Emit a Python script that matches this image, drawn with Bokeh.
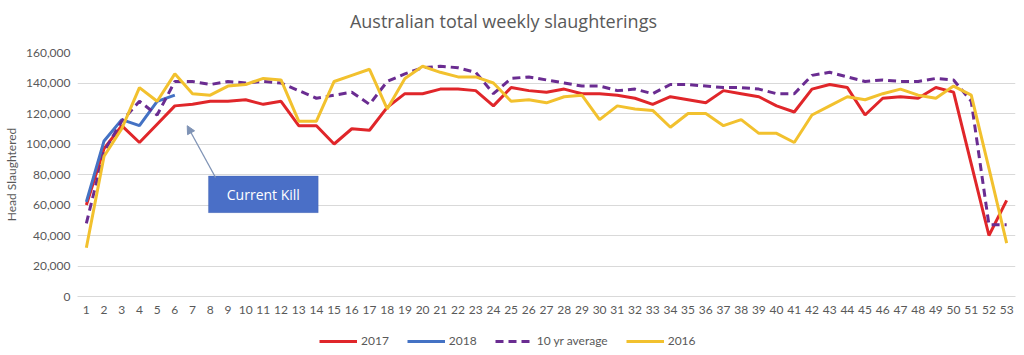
from bokeh.plotting import figure
from bokeh.layouts import column
from bokeh.models import (Range1d, FixedTicker, NumeralTickFormatter, Legend, LegendItem,
                          BoxAnnotation, Label, Arrow, NormalHead)
from bokeh.embed import file_html
from bokeh.resources import INLINE

weeks = list(range(1, 54))
y2017 = [60000, 97000, 112000, 101000, 113000, 125000, 126000, 128000, 128000, 129000,
         126000, 128000, 112000, 112000, 100000, 110000, 109000, 124000, 133000, 133000,
         136000, 136000, 135000, 125000, 137000, 135000, 134000, 136000, 133000, 133000,
         132000, 130000, 126000, 131000, 129000, 127000, 135000, 133000, 131000, 125000,
         121000, 136000, 139000, 137000, 119000, 130000, 131000, 130000, 137000, 134000,
         87000, 40000, 63000]
weeks2018 = [1, 2, 3, 4, 5, 6]
y2018 = [62000, 102000, 116000, 112000, 128000, 132000]
avg10 = [48000, 95000, 115000, 128000, 119000, 141000, 141000, 139000, 141000, 140000,
         141000, 140000, 135000, 130000, 132000, 134000, 126000, 141000, 146000, 150000,
         151000, 150000, 147000, 133000, 143000, 144000, 142000, 140000, 138000, 138000,
         135000, 136000, 133000, 139000, 139000, 138000, 137000, 137000, 136000, 133000,
         133000, 145000, 147000, 144000, 141000, 142000, 141000, 141000, 143000, 142000,
         128000, 47000, 47000]
y2016 = [32000, 92000, 110000, 137000, 128000, 146000, 133000, 132000, 138000, 139000,
         143000, 142000, 115000, 115000, 141000, 145000, 149000, 123000, 143000, 151000,
         147000, 144000, 144000, 140000, 128000, 129000, 127000, 131000, 132000, 116000,
         125000, 123000, 122000, 111000, 120000, 120000, 112000, 116000, 107000, 107000,
         101000, 119000, 125000, 131000, 129000, 133000, 136000, 132000, 130000, 138000,
         132000, 84000, 35000]
y_ticks = [0, 20000, 40000, 60000, 80000, 100000, 120000, 140000, 160000]
series_labels = ["2017", "2018", "10 yr average", "2016"]
title_text = "Australian total weekly slaughterings"

GREY = "#595959"
FONT = "Lato"
C17, C18, CAVG, C16 = "#E0262A", "#4472C4", "#6A2C91", "#F2C12E"

# title strip
top = figure(width=1024, height=40, output_backend="svg", toolbar_location=None,
             x_range=Range1d(0, 1024), y_range=Range1d(0, 40),
             min_border=0, min_border_left=0, min_border_right=0,
             min_border_top=0, min_border_bottom=0)
top.axis.visible = False
top.grid.visible = False
top.outline_line_color = None
top.add_layout(Label(x=465, y=20, text=title_text, text_color=GREY,
                     text_font="Open Sans", text_font_size="18px",
                     text_align="center", text_baseline="middle"))

p = figure(width=1024, height=282, output_backend="svg", toolbar_location=None,
           x_range=Range1d(0.5, 53.5), y_range=Range1d(0, 160000),
           min_border_left=77, min_border_right=9, min_border_top=12, min_border_bottom=26)
p.outline_line_color = None

p.xaxis.ticker = FixedTicker(ticks=weeks)
p.xaxis.major_tick_line_color = None
p.xaxis.minor_tick_line_color = None
p.xaxis.major_tick_out = 0
p.xaxis.major_tick_in = 0
p.xaxis.axis_line_color = "#d9d9d9"
p.xaxis.major_label_text_font = FONT
p.xaxis.major_label_text_font_size = "12px"
p.xaxis.major_label_text_color = GREY
p.xaxis.major_label_standoff = 9

p.yaxis.ticker = FixedTicker(ticks=y_ticks)
p.yaxis.formatter = NumeralTickFormatter(format="0,0")
p.yaxis.major_tick_line_color = None
p.yaxis.minor_tick_line_color = None
p.yaxis.major_tick_out = 0
p.yaxis.major_tick_in = 0
p.yaxis.axis_line_color = None
p.yaxis.major_label_text_font = FONT
p.yaxis.major_label_text_font_size = "12px"
p.yaxis.major_label_text_color = GREY
p.yaxis.major_label_standoff = 7
p.yaxis.axis_label = "Head Slaughtered"
p.yaxis.axis_label_text_font = FONT
p.yaxis.axis_label_text_font_size = "12px"
p.yaxis.axis_label_text_font_style = "normal"
p.yaxis.axis_label_text_color = GREY
p.yaxis.axis_label_standoff = 4

p.xgrid.grid_line_color = None
p.ygrid.grid_line_color = "#d9d9d9"
p.ygrid.grid_line_width = 1

p.line(weeks, y2017, line_color=C17, line_width=3)
p.line(weeks2018, y2018, line_color=C18, line_width=3)
p.line(weeks, avg10, line_color=CAVG, line_width=3, line_dash="8 5")
p.line(weeks, y2016, line_color=C16, line_width=3)

box = BoxAnnotation(left=7.9, right=14.1, bottom=55000, top=79000,
                    fill_color="#4A6FC7", fill_alpha=1.0, line_color="#3B5BA8", line_width=1)
p.add_layout(box)
p.add_layout(Label(x=11.0, y=67000, text="Current Kill", text_color="white",
                   text_font="Open Sans", text_font_size="14px",
                   text_align="center", text_baseline="middle"))
p.add_layout(Arrow(end=NormalHead(size=8, fill_color="#7F93B5", line_color="#7F93B5"),
                   x_start=8.3, y_start=78000, x_end=6.7, y_end=112000,
                   line_color="#7F93B5", line_width=1.3))

# legend strip: same series drawn outside its (empty) view, only the legend shows
leg = figure(width=1024, height=33, output_backend="svg", toolbar_location=None,
             x_range=Range1d(-10, -9), y_range=Range1d(-10, -9),
             min_border=0, min_border_left=0, min_border_right=0,
             min_border_top=0, min_border_bottom=0)
leg.axis.visible = False
leg.grid.visible = False
leg.outline_line_color = None
l17 = leg.line(weeks, y2017, line_color=C17, line_width=3)
l18 = leg.line(weeks2018, y2018, line_color=C18, line_width=3)
lavg = leg.line(weeks, avg10, line_color=CAVG, line_width=3, line_dash="8 5")
l16 = leg.line(weeks, y2016, line_color=C16, line_width=3)

legend = Legend(items=[LegendItem(label=series_labels[0], renderers=[l17]),
                       LegendItem(label=series_labels[1], renderers=[l18]),
                       LegendItem(label=series_labels[2], renderers=[lavg]),
                       LegendItem(label=series_labels[3], renderers=[l16])],
                orientation="horizontal", location=(242, 7),
                label_text_font=FONT, label_text_font_size="12px", label_text_color=GREY,
                glyph_width=38, glyph_height=14, spacing=18, padding=2, margin=0,
                label_standoff=4,
                border_line_color=None, background_fill_alpha=0)
leg.add_layout(legend)

layout = column(top, p, leg, spacing=0)
open("out.html", "w").write(file_html(layout, INLINE))
